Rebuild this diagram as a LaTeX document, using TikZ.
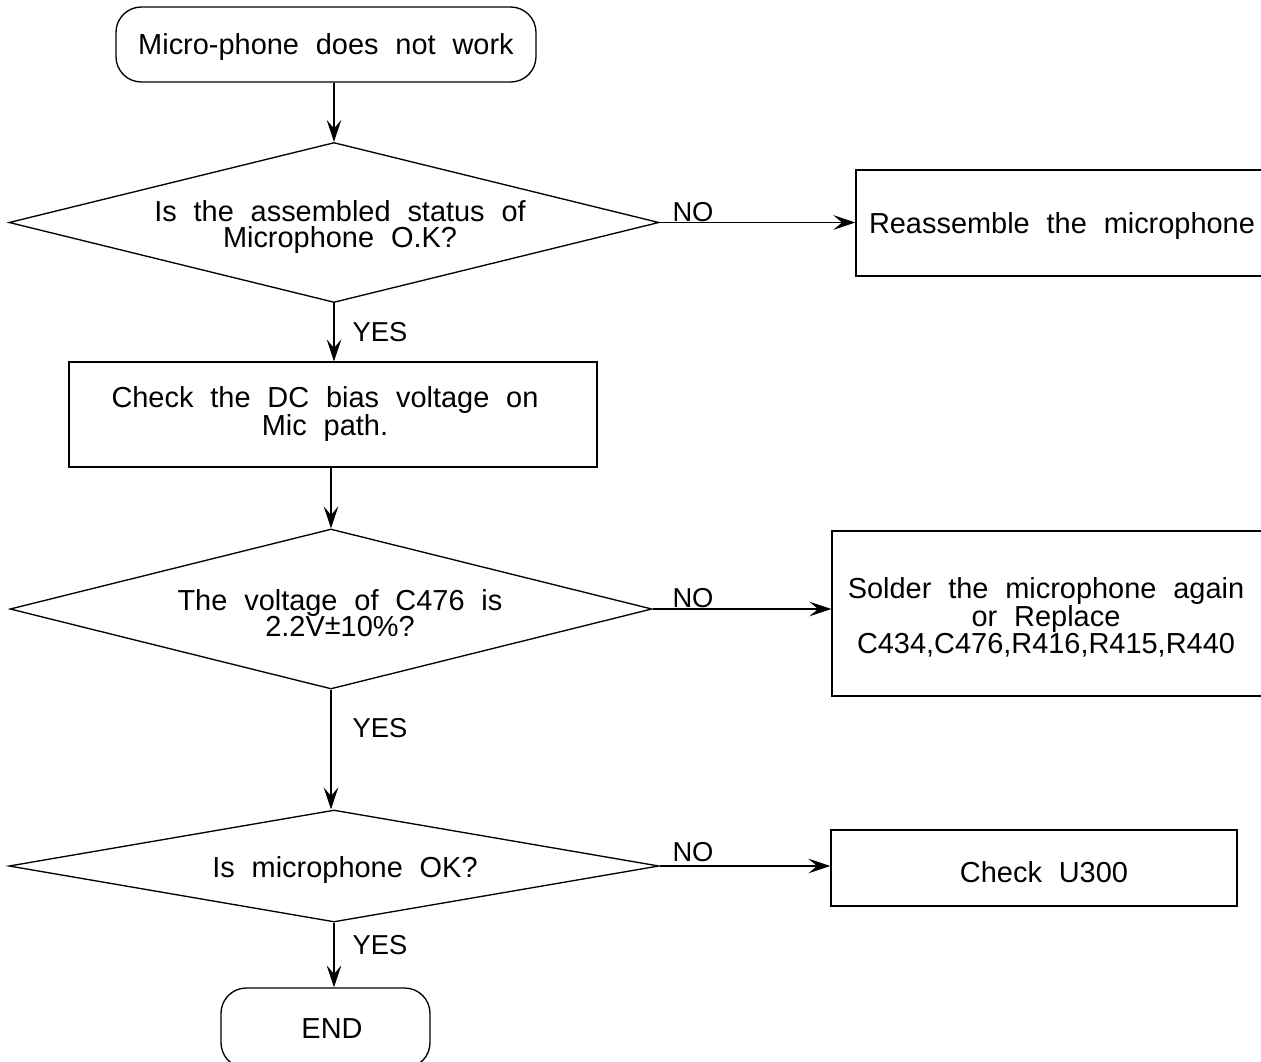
\documentclass[tikz,border=0pt]{standalone}
\usepackage{fontspec}
\setmainfont{Liberation Sans}[WordSpace=2.1]
\usetikzlibrary{arrows.meta,shapes.geometric}
\begin{document}
\begin{tikzpicture}[x=0.75pt,y=-0.75pt,
  txt/.style={font=\fontsize{21.7}{20}\selectfont, inner sep=0pt, align=center},
  lbl/.style={font=\fontsize{20.5}{20}\selectfont, inner sep=0pt},
  ln/.style={line width=1pt},
  arr/.style={ln, -{Stealth[length=16.5pt,width=11pt,inset=6.5pt]}},
  term/.style={draw, ln, rounded corners=19pt, inner sep=0pt},
  procbox/.style={draw, ln, rectangle, inner sep=0pt},
  decision/.style={draw, ln, diamond, inner sep=0pt}]
\useasboundingbox (0,0) rectangle (1261,1061);
\clip (0,0) rectangle (1261,1061);
\fill[white] (0,0) rectangle (1261,1061);

% shapes
\node[term, minimum width=315pt, minimum height=56.25pt] (start) at (326,44.5) {};
\node[decision, minimum width=487.5pt, minimum height=120pt] (d1) at (334,222.5) {};
\node[procbox, minimum width=333pt, minimum height=79.5pt] (box1) at (1078,223) {};
\node[procbox, minimum width=396pt, minimum height=78.75pt] (chk) at (333,414.5) {};
\node[decision, minimum width=481.5pt, minimum height=120pt] (d2) at (331,609) {};
\node[procbox, minimum width=351pt, minimum height=123.75pt] (box2) at (1066,613.5) {};
\node[decision, minimum width=487.5pt, minimum height=84pt] (d3) at (334,866) {};
\node[procbox, minimum width=304.5pt, minimum height=57pt] (box3) at (1034,868) {};
\node[term, minimum width=156.75pt, minimum height=60pt] (end) at (325.5,1028) {};

% texts
\node[txt] (tstart) at (326,47) {Micro-phone does not work};
\node[txt] (td1) at (340,227) {Is the assembled status of\\Microphone O.K?};
\node[txt] (tbox1) at (1062,226) {Reassemble the microphone};
\node[txt] (tchk) at (325,414) {Check the DC bias voltage on\\Mic path.};
\node[txt] (td2) at (340,613) {The voltage of C476 is\\2.2V\raisebox{0.15ex}{±}10\%?};
\node[txt] (tbox2) at (1046,617) {Solder the microphone again\\or Replace\\C434,C476,R416,R415,R440};
\node[txt] (td3) at (345,870) {Is microphone OK?};
\node[txt] (tbox3) at (1044,872) {Check U300};
\node[txt] (tend) at (332,1029) {END};

% connectors
\draw[arr] (d1.north |- start.south) -- (d1.north);
\draw[arr] (d1.south) -- (d1.south |- chk.north);
\draw[arr] (chk.south -| d2.north) -- (d2.north);
\draw[arr] (d2.south) -- (d2.south |- d3.north);
\draw[arr] (d3.south) -- (d3.south |- end.north);
\draw[arr] (d1.east) -- (box1.west |- d1.east);
\draw[arr] (d2.east) -- (box2.west |- d2.east);
\draw[arr] (d3.east) -- (box3.west |- d3.east);

% labels
\node[lbl] (y1) at (380,332) {YES};
\node[lbl] (y2) at (380,728) {YES};
\node[lbl] (y3) at (380,945) {YES};
\node[lbl] (n1) at (693,212) {NO};
\node[lbl] (n2) at (693,598) {NO};
\node[lbl] (n3) at (693,852) {NO};
\end{tikzpicture}
\end{document}
